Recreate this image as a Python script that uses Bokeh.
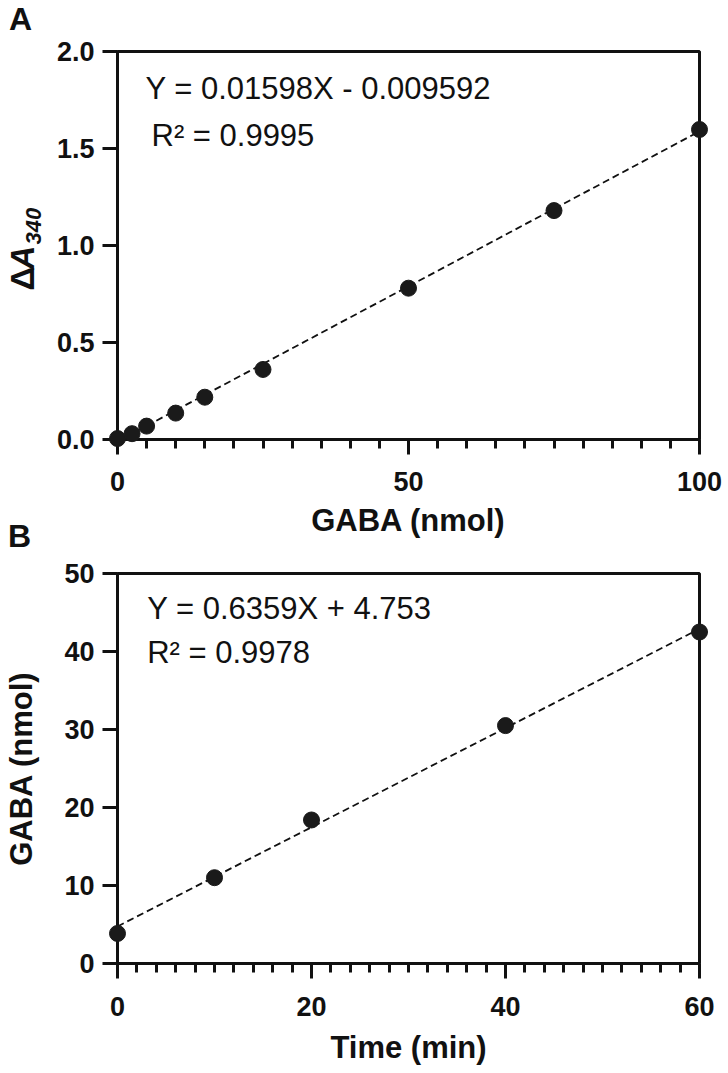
import numpy as np
from bokeh.plotting import figure
from bokeh.models import Range1d, FixedTicker
from bokeh.core.properties import value
from bokeh.layouts import column
from bokeh.embed import file_html
from bokeh.resources import INLINE

# ---------------- data: panel A (standard curve) ----------------
gaba_nmol_a = [0, 2.5, 5, 10, 15, 25, 50, 75, 100]
delta_a340 = [0.005, 0.03, 0.069, 0.136, 0.218, 0.361, 0.78, 1.18, 1.598]
fit_a_slope = 0.01598
fit_a_intercept = -0.009592
eq_a_text = "Y = 0.01598X - 0.009592"
r2_a_text = "R² = 0.9995"
xticks_a = [0, 50, 100]
xminor_a = [5, 10, 15, 20, 25, 30, 35, 40, 45, 55, 60, 65, 70, 75, 80, 85, 90, 95]
yticks_a = [0, 0.5, 1.0, 1.5, 2.0]
ytick_labels_a = ["0.0", "0.5", "1.0", "1.5", "2.0"]

# ---------------- data: panel B (time course) ----------------
time_min = [0, 10, 20, 40, 60]
gaba_nmol_b = [3.85, 11.0, 18.4, 30.5, 42.5]
fit_b_slope = 0.6359
fit_b_intercept = 4.753
eq_b_text = "Y = 0.6359X + 4.753"
r2_b_text = "R² = 0.9978"
xticks_b = [0, 20, 40, 60]
xminor_b = [2, 4, 6, 8, 10, 12, 14, 16, 18, 22, 24, 26, 28, 30, 32, 34, 36, 38,
            42, 44, 46, 48, 50, 52, 54, 56, 58]
yticks_b = [0, 10, 20, 30, 40, 50]

FONT = "Liberation Sans"
INK = "#111111"
TICK_FS = "27px"
TITLE_FS = "31px"
EQ_FS = "31px"


def style(p, xticks, xminor, yticks, ylabels=None):
    p.background_fill_color = "white"
    p.border_fill_color = "white"
    p.outline_line_color = INK
    p.outline_line_width = 3
    p.xgrid.visible = False
    p.ygrid.visible = False
    p.xaxis.ticker = FixedTicker(ticks=xticks, minor_ticks=xminor)
    p.yaxis.ticker = FixedTicker(ticks=yticks, minor_ticks=[])
    if ylabels is not None:
        p.yaxis.major_label_overrides = {t: l for t, l in zip(yticks, ylabels)}
    for ax in (p.xaxis, p.yaxis):
        ax.axis_line_width = 3
        ax.axis_line_color = INK
        ax.major_tick_line_width = 3
        ax.major_tick_line_color = INK
        ax.minor_tick_line_width = 3
        ax.minor_tick_line_color = INK
        ax.major_tick_in = 0
        ax.major_tick_out = 15
        ax.minor_tick_in = 0
        ax.minor_tick_out = 9
        ax.major_label_text_font = FONT
        ax.major_label_text_font_style = "bold"
        ax.major_label_text_font_size = TICK_FS
        ax.major_label_text_color = INK
        ax.axis_label_text_font = FONT
        ax.axis_label_text_font_style = "bold"
        ax.axis_label_text_font_size = TITLE_FS
        ax.axis_label_text_color = INK
    p.yaxis.major_label_standoff = 8


def txt(p, xs, ys, s, size, style_="normal", angle=0.0, align="left"):
    # text glyph drawn on the overlay level so it is not clipped to the frame
    p.text(x=xs, y=ys, text=[s], text_font=value(FONT), text_font_size=value(size),
           text_font_style=style_, text_color=INK, text_align=align,
           text_baseline="middle", angle=angle, level="overlay")


# ---------------- panel A ----------------
pa = figure(width=728, height=555, output_backend="svg", toolbar_location=None,
            x_range=Range1d(0, 100), y_range=Range1d(0, 2.0),
            min_border_left=117, min_border_right=29, min_border_top=51,
            min_border_bottom=116)
style(pa, xticks_a, xminor_a, yticks_a, ytick_labels_a)
pa.xaxis.axis_label = "GABA (nmol)"
pa.xaxis.major_label_standoff = 17
pa.xaxis.axis_label_standoff = 9

xa_fit = [min(gaba_nmol_a), max(gaba_nmol_a)]
ya_fit = [fit_a_slope * v + fit_a_intercept for v in xa_fit]
pa.line(xa_fit, ya_fit, line_color=INK, line_width=1.8, line_dash="7 4")
pa.scatter(gaba_nmol_a, delta_a340, size=16, fill_color="#1a1a1a",
           line_color="#1a1a1a", level="overlay")

# pixel -> data helpers for text placement (frame: x 117..699, y 51..439)
def ax_x(px):
    return (px - 117) / 582 * 100

def ax_y(py):
    return (439 - py) / 388 * 2.0

txt(pa, [ax_x(145)], [ax_y(88)], eq_a_text, EQ_FS)
txt(pa, [ax_x(151)], [ax_y(135)], r2_a_text, EQ_FS)
txt(pa, [ax_x(20)], [ax_y(18)], "A", "32px", "bold", align="center")
txt(pa, [ax_x(19)], [ax_y(535)], "B", "32px", "bold", align="center")
# y axis title: ΔA340 (A italic, 340 subscript)
txt(pa, [ax_x(22)], [ax_y(290)], "Δ", "33px", "bold", np.pi / 2)
txt(pa, [ax_x(22)], [ax_y(269)], "A", "33px", "bold italic", np.pi / 2)
txt(pa, [ax_x(33)], [ax_y(244)], "340", "22px", "bold italic", np.pi / 2)

# ---------------- panel B ----------------
pb = figure(width=728, height=518, output_backend="svg", toolbar_location=None,
            x_range=Range1d(0, 60), y_range=Range1d(0, 50),
            min_border_left=115, min_border_right=25, min_border_top=18,
            min_border_bottom=110)
style(pb, xticks_b, xminor_b, yticks_b)
pb.xaxis.axis_label = "Time (min)"
pb.xaxis.major_label_standoff = 18
pb.xaxis.axis_label_standoff = 11
pb.yaxis.axis_label = "GABA (nmol)"
pb.yaxis.axis_label_standoff = 22

xb_fit = [min(time_min), max(time_min)]
yb_fit = [fit_b_slope * v + fit_b_intercept for v in xb_fit]
pb.line(xb_fit, yb_fit, line_color=INK, line_width=1.8, line_dash="7 4")
pb.scatter(time_min, gaba_nmol_b, size=16, fill_color="#1a1a1a",
           line_color="#1a1a1a", level="overlay")

# frame: x 115..703, y 573..963 (page px)
def bx_x(px):
    return (px - 115) / 588 * 60

def bx_y(py):
    return (963 - py) / 390 * 50

txt(pb, [bx_x(145)], [bx_y(608)], eq_b_text, EQ_FS)
txt(pb, [bx_x(145)], [bx_y(652)], r2_b_text, EQ_FS)

layout = column(pa, pb, spacing=0)
open("out.html", "w").write(file_html(layout, INLINE))
